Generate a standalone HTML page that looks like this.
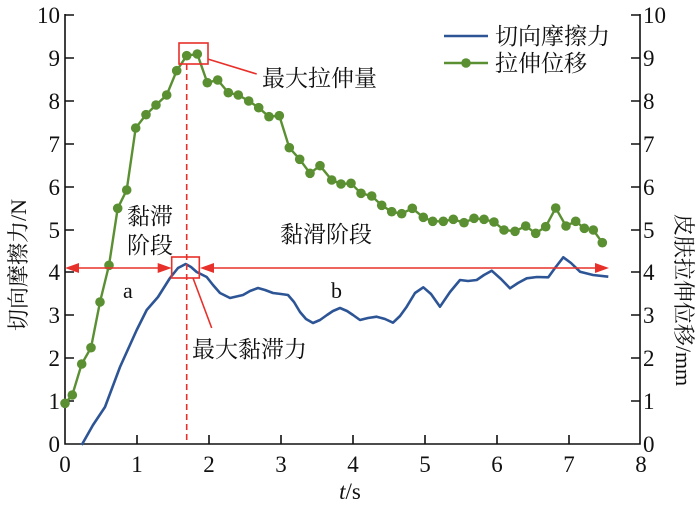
<!DOCTYPE html>
<html><head><meta charset="utf-8"><style>
body{margin:0;background:#fff}
svg text{font-family:"Liberation Serif","Noto Serif CJK SC",serif;fill:#111}
.cj{font-family:"Liberation Serif","Noto Serif CJK SC","Noto Sans CJK SC",serif}
</style></head><body>
<svg width="700" height="507" viewBox="0 0 700 507" xmlns="http://www.w3.org/2000/svg">
<g stroke="#111" stroke-width="1.6" fill="none">
<path d="M65 14V444H640V14"/>
<path d="M65 15h9M65 58h9M65 101h9M65 144h9M65 187h9M65 230h9M65 272h9M65 315h9M65 358h9M65 401h9"/>
<path d="M640 15h-9M640 58h-9M640 101h-9M640 144h-9M640 187h-9M640 230h-9M640 272h-9M640 315h-9M640 358h-9M640 401h-9"/>
<path d="M137 444v-9M209 444v-9M281 444v-9M353 444v-9M425 444v-9M497 444v-9M569 444v-9"/>
</g>
<g font-size="23" text-anchor="end">
<text x="60" y="23">10</text><text x="60" y="66">9</text><text x="60" y="109">8</text><text x="60" y="152">7</text><text x="60" y="195">6</text><text x="60" y="238">5</text><text x="60" y="280">4</text><text x="60" y="323">3</text><text x="60" y="366">2</text><text x="60" y="409">1</text><text x="60" y="452">0</text>
</g>
<g font-size="23">
<text x="643" y="23">10</text><text x="643" y="66">9</text><text x="643" y="109">8</text><text x="643" y="152">7</text><text x="643" y="195">6</text><text x="643" y="238">5</text><text x="643" y="280">4</text><text x="643" y="323">3</text><text x="643" y="366">2</text><text x="643" y="409">1</text><text x="643" y="452">0</text>
</g>
<g font-size="23" text-anchor="middle">
<text x="65" y="472">0</text><text x="137" y="472">1</text><text x="209" y="472">2</text><text x="281" y="472">3</text><text x="353" y="472">4</text><text x="425" y="472">5</text><text x="497" y="472">6</text><text x="569" y="472">7</text><text x="641" y="472">8</text>
<text x="350" y="499"><tspan font-style="italic">t</tspan>/s</text>
</g>
<text class="cj" font-size="22" text-anchor="middle" transform="translate(26,265) rotate(-90)">切向摩擦力/N</text>
<text class="cj" font-size="22" text-anchor="middle" transform="translate(676,300) rotate(90)">皮肤拉伸位移/mm</text>

<polyline fill="none" stroke="#2d5596" stroke-width="2.6" stroke-linejoin="round" points="81.7,445 93,425 105,407 120,367 136.7,330 146.7,310 158,297 170,278 178,268 185.7,264 191,267 196.7,272 206.7,277 213,285 220,293 230,298 243,295 250,291 258,288 265,290 273,293 281,294 288,295 294,302 300,312 306,319 313,323 320,320 327,315 333,311 340,308 347,311 353,315 360,320 368,318 376.7,316.7 385,319 393,322.7 400,316 406.7,306.7 415,293 423.3,287.3 431,294 440,306.7 450,292 460,280 468,281 476.7,280 484,275 491.7,270.7 501,279 510,288.3 518,283 526.7,278.3 537,277 548.3,277.3 555,268 563.3,257.3 571,263 580,271.7 593,275 608.3,276.7"/>

<g fill="#5a8f32" stroke="#5a8f32">
<polyline fill="none" stroke-width="2.4" points="65,403.3 72.3,395 81.7,364 91,347.7 100,302 109,265.3 117.7,208.3 126.7,190 135.7,128 146,114.7 156,105 166.7,95 176.7,70.7 186.7,55.7 197.3,54 207.3,82.7 217.7,80 228.3,92.7 238.3,95 248.7,101 258.7,107.7 269,116.7 279.3,115.7 289.3,147.7 299.7,159.3 310,173.3 320,165.7 331.7,180 341,184 351,183.3 361,193.3 371.7,196 381.7,205.3 391.7,211.7 401.7,213.7 412.3,208.3 423.3,217.3 432.7,221.3 443.3,221.3 453.3,219.3 464,222.7 474,218.3 484,219.3 494,222 504,230 515,231.3 525.7,226 535.7,233.3 545.7,226.7 555.7,208 566,226 575.7,221.3 584.3,228.3 593.3,230 602.3,242.7"/>
<g stroke="none">
<circle cx="65" cy="403.3" r="4.8"/><circle cx="72.3" cy="395" r="4.8"/><circle cx="81.7" cy="364" r="4.8"/><circle cx="91" cy="347.7" r="4.8"/><circle cx="100" cy="302" r="4.8"/><circle cx="109" cy="265.3" r="4.8"/><circle cx="117.7" cy="208.3" r="4.8"/><circle cx="126.7" cy="190" r="4.8"/><circle cx="135.7" cy="128" r="4.8"/><circle cx="146" cy="114.7" r="4.8"/><circle cx="156" cy="105" r="4.8"/><circle cx="166.7" cy="95" r="4.8"/><circle cx="176.7" cy="70.7" r="4.8"/><circle cx="186.7" cy="55.7" r="4.8"/><circle cx="197.3" cy="54" r="4.8"/><circle cx="207.3" cy="82.7" r="4.8"/><circle cx="217.7" cy="80" r="4.8"/><circle cx="228.3" cy="92.7" r="4.8"/><circle cx="238.3" cy="95" r="4.8"/><circle cx="248.7" cy="101" r="4.8"/><circle cx="258.7" cy="107.7" r="4.8"/><circle cx="269" cy="116.7" r="4.8"/><circle cx="279.3" cy="115.7" r="4.8"/><circle cx="289.3" cy="147.7" r="4.8"/><circle cx="299.7" cy="159.3" r="4.8"/><circle cx="310" cy="173.3" r="4.8"/><circle cx="320" cy="165.7" r="4.8"/><circle cx="331.7" cy="180" r="4.8"/><circle cx="341" cy="184" r="4.8"/><circle cx="351" cy="183.3" r="4.8"/><circle cx="361" cy="193.3" r="4.8"/><circle cx="371.7" cy="196" r="4.8"/><circle cx="381.7" cy="205.3" r="4.8"/><circle cx="391.7" cy="211.7" r="4.8"/><circle cx="401.7" cy="213.7" r="4.8"/><circle cx="412.3" cy="208.3" r="4.8"/><circle cx="423.3" cy="217.3" r="4.8"/><circle cx="432.7" cy="221.3" r="4.8"/><circle cx="443.3" cy="221.3" r="4.8"/><circle cx="453.3" cy="219.3" r="4.8"/><circle cx="464" cy="222.7" r="4.8"/><circle cx="474" cy="218.3" r="4.8"/><circle cx="484" cy="219.3" r="4.8"/><circle cx="494" cy="222" r="4.8"/><circle cx="504" cy="230" r="4.8"/><circle cx="515" cy="231.3" r="4.8"/><circle cx="525.7" cy="226" r="4.8"/><circle cx="535.7" cy="233.3" r="4.8"/><circle cx="545.7" cy="226.7" r="4.8"/><circle cx="555.7" cy="208" r="4.8"/><circle cx="566" cy="226" r="4.8"/><circle cx="575.7" cy="221.3" r="4.8"/><circle cx="584.3" cy="228.3" r="4.8"/><circle cx="593.3" cy="230" r="4.8"/><circle cx="602.3" cy="242.7" r="4.8"/>
</g></g>

<g stroke="#e8302a" fill="none" stroke-width="1.6">
<path d="M186.7 64V444" stroke-dasharray="6,4"/>
<rect x="179" y="43" width="29" height="21"/>
<rect x="171.7" y="257" width="27.6" height="21"/>
<path d="M207.7 59L256.7 74M193 278L211.7 328"/>
<path d="M70 268H166M205 268H603"/>
</g>
<g fill="#e8302a">
<path d="M65 268l14-5v10z"/><path d="M171.7 268l-14-5v10z"/><path d="M200 268l14-5v10z"/><path d="M609 268l-14-5v10z"/>
</g>

<g class="cj" font-size="23">
<text x="262" y="86">最大拉伸量</text>
<text x="192" y="357">最大黏滞力</text>
<text x="127" y="224">黏滞</text>
<text x="127" y="253">阶段</text>
<text x="280" y="242">黏滑阶段</text>
<text x="495" y="44">切向摩擦力</text>
<text x="495" y="71">拉伸位移</text>
</g>
<text x="123" y="298" font-size="22">a</text>
<text x="331" y="298" font-size="22">b</text>
<line x1="444" y1="36" x2="488" y2="36" stroke="#2d5596" stroke-width="2.6"/>
<line x1="444" y1="63" x2="488" y2="63" stroke="#5a8f32" stroke-width="2.4"/>
<circle cx="466" cy="63" r="4.8" fill="#5a8f32"/>
</svg>
</body></html>
